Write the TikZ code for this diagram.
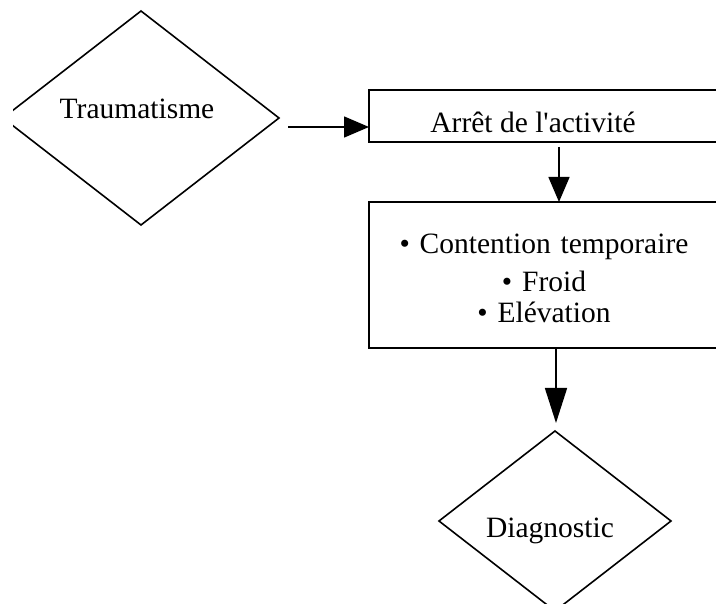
\documentclass[tikz,border=0pt]{standalone}
\usepackage{fontspec}
\setmainfont{Liberation Serif}
\usetikzlibrary{shapes.geometric, arrows.meta}

\begin{document}
\begin{tikzpicture}[x=1pt, y=-1pt, font=\fontsize{29.5}{31}\selectfont, line width=1.6pt,
	losange/.style={draw, diamond, inner sep=0pt, outer sep=0pt},
	boite/.style={draw, rectangle, inner sep=0pt, outer sep=0pt, minimum width=350pt},
	fleche/.style={-{Triangle[length=25pt, width=21pt]}}]
	\useasboundingbox (0,0) rectangle (716,604);

	% Départ
	\begin{scope}
		\clip (13,0) rectangle (716,604);
		\node[losange, minimum width=276pt, minimum height=214pt, text height=2pt, text depth=0pt] (trauma) at (141,118) {Traumatisme\hspace*{8pt}};
	\end{scope}

	% Premières mesures
	\node[boite, minimum height=52pt, text height=34pt, text depth=0pt] (arret) at (544,116) {Arrêt de l\textquotesingle activité\hspace*{22pt}};
	\node[boite, minimum height=146pt, text width=330pt, align=center, text height=0pt, text depth=42pt] (soins) at (544,275) {• Contention temporaire\\[7pt] • Froid\\ • Elévation};

	% Fin
	\node[losange, minimum width=232pt, minimum height=180pt, text height=32pt, text depth=0pt] (diag) at (555,521) {Diagnostic\hspace*{10pt}};

	% Flèches
	\coordinate (entree) at ([shift={(9,9)}]trauma.east);
	\draw[fleche] (entree) -- (entree -| arret.west);
	\draw[fleche] ([shift={(15,5)}]arret.south) -- ([xshift=15pt]soins.north);
	\draw[-{Triangle[length=35pt, width=22pt]}] ([xshift=12pt]soins.south) -- ([shift={(1,-8)}]diag.north);
\end{tikzpicture}
\end{document}
